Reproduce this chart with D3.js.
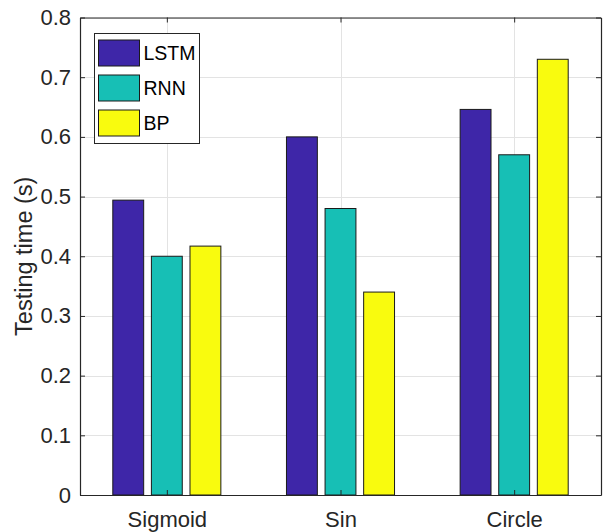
<!DOCTYPE html>
<html>
<head>
<meta charset="utf-8">
<script src="https://cdn.jsdelivr.net/npm/d3@7"></script>
<style>
  html, body { margin: 0; padding: 0; background: #fff; }
  svg { display: block; font-family: "Liberation Sans", Arial, Helvetica, sans-serif; }
</style>
</head>
<body>
<svg id="chart" width="606" height="532"></svg>
<script>
// Testing time per method on each test signal
const categories = ["Sigmoid", "Sin", "Circle"];
const seriesNames = ["LSTM", "RNN", "BP"];
const lstmValues = [0.494, 0.600, 0.646];
const rnnValues  = [0.400, 0.480, 0.570];
const bpValues   = [0.417, 0.340, 0.730];
const yTicks = [0, 0.1, 0.2, 0.3, 0.4, 0.5, 0.6, 0.7, 0.8];
const seriesColors = ["#3e26a8", "#17bfb5", "#f9fb0e"];

const series = [lstmValues, rnnValues, bpValues];

const svg = d3.select("#chart");
const plot = { left: 80, right: 601, top: 17.5, bottom: 495 };
const axisColor = "#262626";
const gridColor = "#e3e3e3";
const tickLen = 5;

// Category positions 1..n, with half a unit of padding on each side
const x = d3.scaleLinear().domain([0.5, categories.length + 0.5]).range([plot.left, plot.right]);
const y = d3.scaleLinear().domain([0, 0.8]).range([plot.bottom, plot.top]);

// Grouped bar geometry (fractions of one category unit)
const nSeries = series.length;
const groupWidth = Math.min(0.8, nSeries / (nSeries + 1.5));
const barWidth = groupWidth / nSeries * 0.8;
const offset = i => -groupWidth / 2 + (2 * i + 1) * groupWidth / (2 * nSeries);

// Grid lines
const grid = svg.append("g").attr("stroke", gridColor).attr("stroke-width", 1);
grid.selectAll("line.h").data(yTicks).join("line")
  .attr("x1", plot.left).attr("x2", plot.right)
  .attr("y1", d => Math.round(y(d)) + 0.5).attr("y2", d => Math.round(y(d)) + 0.5);
grid.selectAll("line.v").data(categories).join("line")
  .attr("x1", (d, i) => Math.round(x(i + 1)) + 0.5).attr("x2", (d, i) => Math.round(x(i + 1)) + 0.5)
  .attr("y1", plot.top).attr("y2", plot.bottom);

// Bars
series.forEach((vals, si) => {
  svg.append("g").selectAll("rect").data(vals).join("rect")
    .attr("x", (d, i) => x(i + 1 + offset(si) - barWidth / 2))
    .attr("width", x(1 + barWidth) - x(1))
    .attr("y", d => y(d))
    .attr("height", d => y(0) - y(d))
    .attr("fill", seriesColors[si])
    .attr("stroke", "#1a1a1a")
    .attr("stroke-width", 1);
});

// Axes: left/bottom with labels, right/top as bare box sides; ticks point inward
const axisLeft = d3.axisLeft(y).tickValues(yTicks).tickSizeInner(-tickLen).tickSizeOuter(0)
  .tickPadding(9).tickFormat(d => d === 0 ? "0" : d3.format(".1f")(d));
const axisRight = d3.axisRight(y).tickValues(yTicks).tickSizeInner(-tickLen).tickSizeOuter(0).tickFormat("");
const axisBottom = d3.axisBottom(x).tickValues(categories.map((c, i) => i + 1))
  .tickSizeInner(-tickLen).tickSizeOuter(0).tickPadding(16).tickFormat((d, i) => categories[i]);
const axisTop = d3.axisTop(x).tickValues(categories.map((c, i) => i + 1))
  .tickSizeInner(-tickLen).tickSizeOuter(0).tickFormat("");

function styleAxis(g) {
  g.selectAll("path").attr("stroke", axisColor).attr("stroke-width", 1.2);
  g.selectAll("line").attr("stroke", axisColor).attr("stroke-width", 1);
  g.selectAll("text").attr("fill", axisColor).attr("font-size", 22)
    .attr("font-family", "'Liberation Sans', Arial, sans-serif");
}

svg.append("g").attr("transform", `translate(${plot.left},0)`).call(axisLeft).call(styleAxis);
svg.append("g").attr("transform", `translate(${plot.right},0)`).call(axisRight).call(styleAxis);
svg.append("g").attr("transform", `translate(0,${plot.bottom})`).call(axisBottom).call(styleAxis);
svg.append("g").attr("transform", `translate(0,${plot.top})`).call(axisTop).call(styleAxis);

// Y axis title
svg.append("text")
  .attr("transform", `translate(32,${(plot.top + plot.bottom) / 2}) rotate(-90)`)
  .attr("text-anchor", "middle")
  .attr("fill", axisColor)
  .attr("font-size", 23.5)
  .text("Testing time (s)");

// Legend
const legend = svg.append("g").attr("transform", "translate(94.5,33.5)");
legend.append("rect").attr("width", 105).attr("height", 110)
  .attr("fill", "#fff").attr("stroke", axisColor).attr("stroke-width", 1);
const rowH = 35;
seriesNames.forEach((name, i) => {
  const row = legend.append("g").attr("transform", `translate(4,${6.5 + i * rowH})`);
  row.append("rect").attr("width", 41).attr("height", 26)
    .attr("fill", seriesColors[i]).attr("stroke", "#1a1a1a").attr("stroke-width", 1);
  row.append("text").attr("x", 45).attr("y", 13).attr("dy", "0.35em")
    .attr("fill", "#000").attr("font-size", 19.5).text(name);
});
</script>
</body>
</html>
